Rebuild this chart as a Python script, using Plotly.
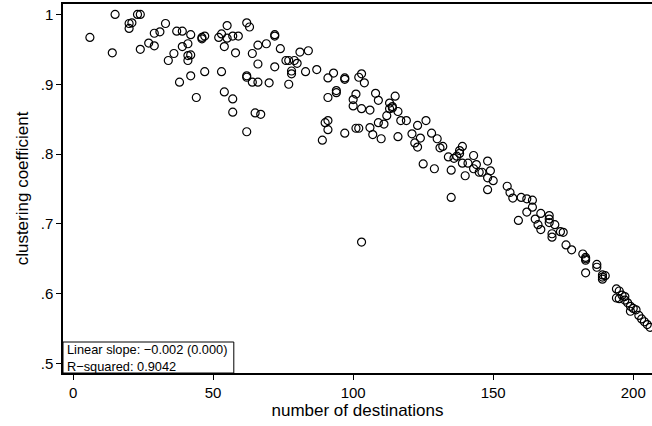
import plotly.graph_objects as go

destinations = [6, 14, 15, 20, 21, 20, 23, 24, 24, 27, 29, 29, 31, 33, 34, 36, 37, 39, 39, 38,
                41, 42, 41, 42, 41, 42, 44, 46, 47, 46, 47, 52, 53, 55, 57, 59, 55, 62, 63, 54,
                58, 53, 54, 57, 57, 62, 65, 67, 62, 62, 64, 66, 70, 64, 66, 66, 69, 72, 72, 72,
                74, 76, 77, 79, 80, 78, 78, 77, 81, 84, 83, 87, 91, 93, 97, 97, 94, 94, 91, 101,
                100, 100, 103, 106, 108, 109, 102, 103, 104, 115, 113, 114, 114, 113, 116, 112, 90, 91, 91, 89,
                97, 101, 102, 106, 107, 110, 116, 109, 111, 117, 119, 103, 126, 123, 121, 124, 122, 123, 128, 130,
                131, 132, 125, 129, 135, 135, 134, 136, 137, 138, 138, 139, 139, 141, 140, 143, 144, 143, 145, 146,
                148, 149, 148, 150, 148, 155, 156, 157, 160, 162, 164, 164, 162, 159, 167, 170, 170, 170, 172, 165,
                166, 167, 171, 171, 174, 175, 176, 178, 182, 183, 183, 183, 183, 187, 187, 189, 190, 189, 189, 194,
                195, 194, 195, 196, 197, 197, 198, 199, 199, 200, 201, 202, 203, 204, 205, 206]

clustering = [.967, .945, 1.000, .987, .988, .980, 1.000, 1.000, .950, .959, .973, .955, .975, .987, .934, .944, .976, .976, .954, .903,
              .958, .971, .941, .942, .934, .912, .881, .967, .969, .965, .918, .967, .972, .966, .969, .969, .984, .988, .982, .954,
              .945, .918, .889, .879, .860, .832, .859, .857, .912, .910, .903, .903, .902, .944, .956, .929, .958, .971, .969, .925,
              .951, .934, .934, .934, .930, .919, .915, .900, .946, .948, .918, .921, .909, .916, .909, .907, .891, .888, .881, .886,
              .878, .869, .865, .863, .887, .877, .910, .915, .902, .883, .873, .868, .866, .865, .861, .855, .845, .848, .835, .820,
              .830, .837, .837, .838, .828, .822, .825, .845, .843, .848, .848, .674, .848, .841, .829, .823, .816, .810, .830, .822,
              .809, .811, .786, .779, .777, .738, .796, .794, .797, .801, .805, .811, .787, .787, .769, .798, .785, .779, .774, .774,
              .790, .776, .766, .762, .749, .754, .745, .737, .738, .736, .734, .724, .717, .705, .715, .712, .707, .702, .699, .707,
              .699, .692, .686, .681, .689, .688, .670, .663, .657, .650, .652, .648, .630, .642, .638, .627, .626, .624, .621, .607,
              .604, .594, .593, .598, .596, .591, .587, .582, .575, .579, .577, .569, .564, .560, .556, .552]

x_ticks = [0, 50, 100, 150, 200]
y_ticks = [0.5, 0.6, 0.7, 0.8, 0.9, 1.0]
y_tick_labels = [".5", ".6", ".7", ".8", ".9", "1"]
note_lines = ["Linear slope: \u22120.002 (0.000)", "R\u2212squared: 0.9042"]

FONT = "Liberation Sans, Arial, Helvetica, sans-serif"

fig = go.Figure()
fig.add_trace(go.Scatter(
    x=destinations, y=clustering, mode="markers",
    marker=dict(symbol="circle-open", size=8, color="black", line=dict(width=1.2, color="black")),
    showlegend=False, hoverinfo="x+y",
))

fig.update_layout(
    width=652, height=426,
    margin=dict(l=63, r=0, t=4, b=53),
    paper_bgcolor="white", plot_bgcolor="white",
    font=dict(family=FONT, size=15, color="black"),
    xaxis=dict(
        range=[-3.6, 206.7], tickvals=x_ticks, ticks="outside", ticklen=5, tickwidth=1,
        tickcolor="black", showgrid=False, zeroline=False, showline=True, linecolor="black",
        linewidth=1.5, mirror=True,
        title=dict(text="number of destinations", standoff=4, font=dict(size=17)),
        tickfont=dict(size=15),
    ),
    yaxis=dict(
        range=[0.4866, 1.0149], tickvals=y_ticks, ticktext=y_tick_labels, ticks="outside",
        ticklen=5, tickwidth=1, tickcolor="black", showgrid=False, zeroline=False,
        showline=True, linecolor="black", linewidth=1.5,
        title=dict(text="clustering coefficient", standoff=8, font=dict(size=17)),
        tickfont=dict(size=15),
    ),
    shapes=[dict(type="rect", xref="paper", yref="paper", x0=0, x1=0.29, y0=0, y1=0.084,
                 line=dict(color="black", width=1), fillcolor="white", layer="above")],
    annotations=[dict(xref="paper", yref="paper", x=0.004, y=0.042, xanchor="left", yanchor="middle",
                      text="<br>".join(note_lines), align="left", showarrow=False,
                      font=dict(size=12.8, family=FONT, color="black"))],
)

fig.write_html("out.html", config={"displayModeBar": False},
               post_script="document.body.style.margin='0';document.body.style.padding='0';")
